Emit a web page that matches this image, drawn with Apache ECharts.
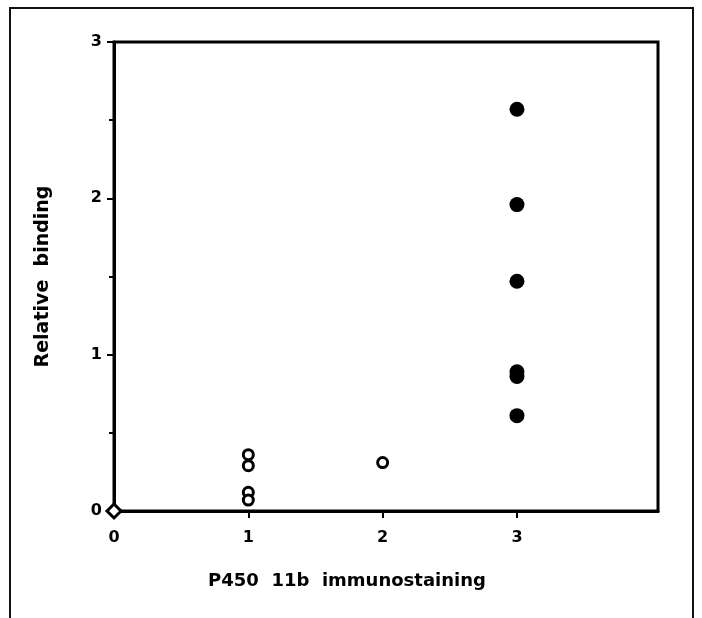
<!DOCTYPE html>
<html><head><meta charset="utf-8">
<script src="https://cdn.jsdelivr.net/npm/echarts@6/dist/echarts.min.js"></script>
<style>html,body{margin:0;padding:0;background:#fff}#c{width:702px;height:618px}</style>
</head><body><div id="c"></div>
<script>
const xTickValues = [0, 1, 2, 3];
const yTickValues = [0, 1, 2, 3];
const xTitle = 'P450  11b  immunostaining';
const yTitle = 'Relative  binding';
const diamondPts = [[0, 0]];
const openPts = [[1, 0.36], [1, 0.29], [1, 0.12], [1, 0.07], [2, 0.31]];
const filledPts = [[3, 2.57], [3, 1.96], [3, 1.47], [3, 0.89], [3, 0.86], [3, 0.61]];

const chart = echarts.init(document.getElementById('c'));
const font = 'DejaVu Sans, Liberation Sans, sans-serif';
chart.setOption({
  animation: false,
  graphic: [{type: 'rect', shape: {x: 10, y: 8, width: 683, height: 640}, style: {fill: 'none', stroke: '#111', lineWidth: 2}}],
  grid: {left: 114, top: 42, right: 44, bottom: 107, show: true, borderColor: '#000', borderWidth: 3, backgroundColor: 'transparent'},
  xAxis: {
    type: 'value', min: 0, max: 4.05, interval: 1,
    name: xTitle, nameLocation: 'middle', nameGap: 61,
    nameTextStyle: {fontFamily: font, fontWeight: 'bold', fontSize: 18, color: '#000', padding: [0, 78, 0, 0]},
    axisLine: {show: true, lineStyle: {color: '#000', width: 3}},
    axisTick: {show: true, inside: false, length: 7, lineStyle: {color: '#000', width: 2}, customValues: xTickValues},
    axisLabel: {fontFamily: font, fontWeight: 'bold', fontSize: 16, color: '#000', margin: 19, customValues: xTickValues},
    splitLine: {show: false}
  },
  yAxis: {
    type: 'value', min: 0, max: 3, interval: 1,
    name: yTitle, nameLocation: 'middle', nameGap: 61, nameRotate: 90,
    nameTextStyle: {fontFamily: font, fontWeight: 'bold', fontSize: 19, color: '#000'},
    axisLine: {show: true, lineStyle: {color: '#000', width: 3}},
    axisTick: {show: true, length: 7, lineStyle: {color: '#000', width: 2}},
    minorTick: {show: true, splitNumber: 2, length: 5, lineStyle: {color: '#000', width: 2}},
    axisLabel: {fontFamily: font, fontWeight: 'bold', fontSize: 16, color: '#000', margin: 12, customValues: yTickValues},
    splitLine: {show: false}
  },
  series: [
    {type: 'scatter', data: diamondPts, symbol: 'diamond', symbolSize: 14, clip: false,
     itemStyle: {color: '#fff', borderColor: '#000', borderWidth: 3, opacity: 1}, z: 5},
    {type: 'scatter', data: openPts, symbol: 'circle', symbolSize: 10, clip: false,
     itemStyle: {color: '#fff', borderColor: '#000', borderWidth: 3, opacity: 1}, z: 5},
    {type: 'scatter', data: filledPts, symbol: 'circle', symbolSize: 15, clip: false,
     itemStyle: {color: '#000', opacity: 1}, z: 5}
  ]
});
</script></body></html>
